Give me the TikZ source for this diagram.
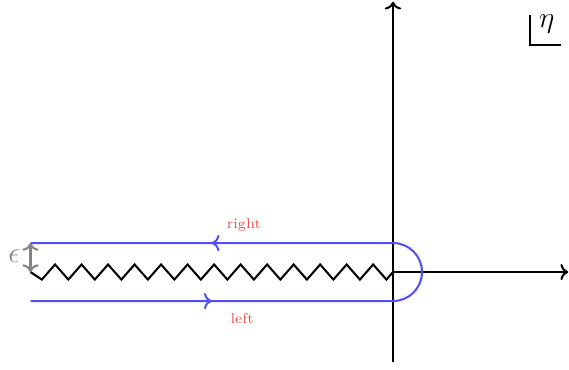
\documentclass[tikz,border=0pt]{standalone}
\usepackage{amsmath}
\usetikzlibrary{positioning,arrows.meta,calc,decorations.markings}
\definecolor{ctBlue}{RGB}{80,80,245}
\definecolor{ctRed}{RGB}{235,75,75}
\definecolor{ctGray}{RGB}{130,130,130}

\begin{document}
\begin{tikzpicture}[
    line width=1pt,
    axis line/.style={->, black},
    branch cut/.style={black, line join=miter},
    contour line/.style={ctBlue, postaction={decorate}, decoration={markings,
        mark=at position 0.222 with {\arrow{>}},
        mark=at position 0.778 with {\arrow{>}}}},
    side note/.style={font=\scriptsize, text=ctRed, inner sep=1pt}
]
  \useasboundingbox (-6.776,-1.672) rectangle (3.034,4.69);

  \coordinate (origin) at (0,0);
  \coordinate (cutstart) at (-6.25,0);
  \coordinate (lowstart) at (-6.25,-0.5);
  \coordinate (upend) at (-6.25,0.5);
  \coordinate (xtip) at (3.02,0);
  \coordinate (ybot) at (0,-1.55);
  \coordinate (ytip) at (0,4.66);

  \draw[axis line] (ybot) -- (ytip);
  \draw[axis line] (origin) -- (xtip);
  \draw[branch cut] (origin) -- ++(-0.114,-0.13)
    foreach \k in {1,...,13} { -- ++(-0.2285,0.26) -- ++(-0.2285,-0.26) } -- (cutstart);

  \draw[contour line] (lowstart) -- (0,-0.5) arc (-90:90:0.5) -- (upend);
  \node[side note] (rightlbl) at (-2.57,0.81) {right};
  \node[side note] (leftlbl) at (-2.6,-0.81) {left};

  \draw[<->, ctGray] (upend) -- (cutstart);
  \node[text=ctGray, font=\Large, inner sep=0pt] (eps) at (-6.53,0.27) {$\epsilon$};

  \draw (2.36,4.43) |- (2.9,3.91);
  \node[font=\Large, inner sep=0pt] (var) at (2.65,4.28) {$\eta$};
\end{tikzpicture}
\end{document}
